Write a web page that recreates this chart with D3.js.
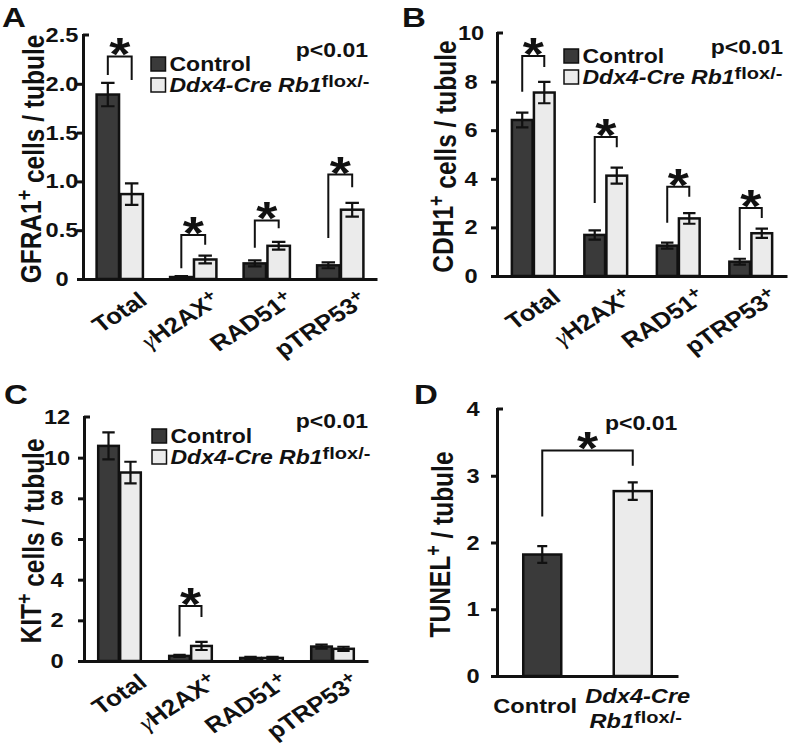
<!DOCTYPE html>
<html><head><meta charset="utf-8">
<script src="https://cdn.jsdelivr.net/npm/d3@7"></script>
<style>
body{margin:0;background:#fff}
svg text{font-family:"Liberation Sans",Arial,Helvetica,sans-serif;font-weight:bold;fill:#111}
</style>
</head><body>
<svg id="c" width="793" height="744"></svg>
<script>
// ---------- DATA ----------
const categories = ["Total", "γH2AX", "RAD51", "pTRP53"];
const categorySup = ["", "+", "+", "+"];
const seriesNames = ["Control", "Ddx4-Cre Rb1"];
const seriesSup = ["", "flox/-"];

// Panel A: GFRA1+ cells / tubule
const gfra1Control    = [1.89, 0.02, 0.16, 0.14];
const gfra1ControlErr = [0.12, 0.01, 0.03, 0.03];
const gfra1Mutant     = [0.87, 0.20, 0.34, 0.71];
const gfra1MutantErr  = [0.11, 0.04, 0.04, 0.07];
const gfra1Bracket    = [[2.09, 2.28, 2.04], [0.11, 0.45, 0.35], [0.32, 0.60, 0.52], [0.42, 1.07, 0.94]];
const gfra1Ticks      = [0, 0.5, 1.0, 1.5, 2.0, 2.5];
const gfra1TickLabels = ["0", "0.5", "1.0", "1.5", "2.0", "2.5"];

// Panel B: CDH1+ cells / tubule
const cdh1Control    = [6.42, 1.69, 1.25, 0.59];
const cdh1ControlErr = [0.30, 0.19, 0.12, 0.12];
const cdh1Mutant     = [7.55, 4.13, 2.37, 1.76];
const cdh1MutantErr  = [0.44, 0.33, 0.22, 0.19];
const cdh1Bracket    = [[7.58, 9.05, 8.60], [3.00, 5.72, 5.30], [2.19, 3.67, 3.26], [1.07, 2.80, 2.39]];
const cdh1Ticks      = [0, 2, 4, 6, 8, 10];

// Panel C: KIT+ cells / tubule
const kitControl    = [10.58, 0.25, 0.15, 0.71];
const kitControlErr = [0.66, 0.05, 0.05, 0.10];
const kitMutant     = [9.27, 0.74, 0.15, 0.60];
const kitMutantErr  = [0.53, 0.20, 0.05, 0.10];
const kitBracket    = [null, [1.20, 2.70, 2.17], null, null];
const kitTicks      = [0, 2, 4, 6, 8, 10, 12];

// Panel D: TUNEL+ / tubule
const tunelValues  = [1.82, 2.77];
const tunelErr     = [0.125, 0.13];
const tunelBracket = [2.39, 3.38, 3.15];
const tunelTicks   = [0, 1, 2, 3, 4];

const pText = "p<0.01";

// ---------- STYLE ----------
const SX = 1.18;               // horizontal stretch of the original figure
const fills = ["#3a3a3a", "#ebebeb"];
const ink = "#111";
const svg = d3.select("#c");

function stext(g, x, y, rot, size) {
  return g.append("text")
    .attr("transform", `translate(${x},${y}) scale(${SX},1)` + (rot ? ` rotate(${rot})` : ""))
    .style("font-size", size + "px");
}
function addLabel(t, main, sup, supSize, italicMain, supDy) {
  if (main.startsWith("γ")) {
    t.append("tspan").text("γ").style("font-family", "'Liberation Serif','Times New Roman',serif")
      .style("font-weight", "normal").style("font-style", "italic");
    main = main.slice(1);
  }
  const m = t.append("tspan").text(main);
  if (italicMain) m.style("font-style", "italic");
  if (sup) {
    t.append("tspan").text(sup).attr("dy", supDy || "-0.42em").style("font-size", supSize);
  }
  return t;
}

function yAxis(g, y, x0, ticks, labels, labelOffset, ylabel, ylabelRest, ylx) {
  const top = ticks[ticks.length - 1];
  const ax = d3.axisLeft(y).tickValues(ticks.slice(0, -1)).tickSize(6).tickSizeOuter(0).tickFormat("");
  const ag = g.append("g").attr("transform", `translate(${x0},0)`).call(ax);
  ag.select(".domain").attr("stroke", ink).attr("stroke-width", 3).attr("stroke-linecap", "square");
  ag.selectAll(".tick line").attr("stroke", ink).attr("stroke-width", 3);
  g.append("line").attr("x1", x0).attr("x2", x0 + 6).attr("y1", y(top)).attr("y2", y(top))
    .attr("stroke", ink).attr("stroke-width", 3);
  ticks.forEach((v, i) => {
    stext(g, x0 - labelOffset, y(v) + 7, 0, 20).attr("text-anchor", "middle").text(labels[i]);
  });
  const r = y.range();
  const t = stext(g, ylx, (r[0] + r[1]) / 2 + 2, -90, 24.5).attr("text-anchor", "middle");
  t.append("tspan").text(ylabel);
  t.append("tspan").text("+").attr("dy", "-0.42em").style("font-size", "18px");
  t.append("tspan").text(ylabelRest).attr("dy", "0.42em");
}

function star(g, xm, ytop) {
  stext(g, xm, ytop + 14, 0, 46).attr("text-anchor", "middle").text("*");
}

function legend(g, lx, ly) {
  seriesNames.forEach((s, i) => {
    const yb = ly + i * 21;
    g.append("rect").attr("x", lx).attr("y", yb - 14).attr("width", 14.5).attr("height", 14)
      .attr("fill", fills[i]).attr("stroke", ink).attr("stroke-width", 1.5);
    const t = stext(g, lx + 18.5, yb, 0, 19.5);
    addLabel(t, s, seriesSup[i], "17px", i === 1, "-0.3em");
  });
}

function errorBar(g, cx, hw, y, v, e) {
  const p = d3.path();
  p.moveTo(cx, y(v + e)); p.lineTo(cx, y(v - e));
  p.moveTo(cx - hw, y(v + e)); p.lineTo(cx + hw, y(v + e));
  p.moveTo(cx - hw, y(v - e)); p.lineTo(cx + hw, y(v - e));
  g.append("path").attr("d", p.toString()).attr("stroke", ink).attr("stroke-width", 2.2).attr("fill", "none");
}

function groupPanel(cfg) {
  const g = svg.append("g");
  const x = d3.scaleBand().domain(categories).range([cfg.x0, cfg.x1]).paddingInner(cfg.pad).paddingOuter(cfg.pad / 2);
  const xs = d3.scaleBand().domain(seriesNames).range([0, x.bandwidth()]).paddingInner(0.06);
  const y = d3.scaleLinear().domain([0, cfg.ticks[cfg.ticks.length - 1]]).range([cfg.y0, cfg.yTop]);
  const vals = [cfg.control, cfg.mutant], errs = [cfg.controlErr, cfg.mutantErr];

  seriesNames.forEach((s, si) => {
    g.selectAll(null).data(categories).enter().append("rect")
      .attr("x", c => x(c) + xs(s)).attr("width", xs.bandwidth())
      .attr("y", (c, i) => y(vals[si][i])).attr("height", (c, i) => y(0) - y(vals[si][i]))
      .attr("fill", fills[si]).attr("stroke", ink).attr("stroke-width", 2.5);
    categories.forEach((c, i) => {
      errorBar(g, x(c) + xs(s) + xs.bandwidth() / 2, xs.bandwidth() * 0.3, y, vals[si][i], errs[si][i]);
    });
  });
  categories.forEach((c, i) => {
    const b = cfg.bracket[i];
    if (!b) return;
    const xl = x(c) + xs(seriesNames[0]) + xs.bandwidth() / 2;
    const xr = x(c) + xs(seriesNames[1]) + xs.bandwidth() / 2;
    const p = d3.path();
    p.moveTo(xl, y(b[0])); p.lineTo(xl, y(b[1])); p.lineTo(xr, y(b[1])); p.lineTo(xr, y(b[2]));
    g.append("path").attr("d", p.toString()).attr("stroke", ink).attr("stroke-width", 2).attr("fill", "none");
    star(g, (xl + xr) / 2, y(b[1]));
  });
  const xa = g.append("g").attr("transform", `translate(0,${cfg.y0})`)
    .call(d3.axisBottom(x).tickSize(0).tickFormat(""));
  xa.select(".domain").attr("stroke", ink).attr("stroke-width", 3);
  categories.forEach((c, i) => {
    const t = stext(g, x(c) + x.bandwidth() / 2 + 29, cfg.y0 + 24, -37, 22).attr("text-anchor", "end");
    addLabel(t, c, categorySup[i], "17px", false);
  });
  yAxis(g, y, cfg.x0, cfg.ticks, cfg.tickLabels || cfg.ticks.map(String), cfg.lblOff, cfg.ylabel, cfg.ylabelRest, cfg.ylx);
  legend(g, cfg.lx, cfg.ly);
  stext(g, cfg.px, cfg.py, 0, 19.5).attr("text-anchor", "end").text(pText);
  stext(g, cfg.letterX, cfg.letterY, 0, 28).text(cfg.letter);
}

groupPanel({letter: "A", letterX: 2, letterY: 27, x0: 83, x1: 377, y0: 279, yTop: 35, pad: 0.37,
  ticks: gfra1Ticks, tickLabels: gfra1TickLabels, lblOff: 21,
  control: gfra1Control, controlErr: gfra1ControlErr, mutant: gfra1Mutant, mutantErr: gfra1MutantErr,
  bracket: gfra1Bracket, ylabel: "GFRA1", ylabelRest: " cells / tubule", ylx: 41,
  lx: 151, ly: 71, px: 368, py: 57});
groupPanel({letter: "B", letterX: 402, letterY: 27, x0: 497, x1: 787, y0: 276, yTop: 33, pad: 0.41,
  ticks: cdh1Ticks, lblOff: 26,
  control: cdh1Control, controlErr: cdh1ControlErr, mutant: cdh1Mutant, mutantErr: cdh1MutantErr,
  bracket: cdh1Bracket, ylabel: "CDH1", ylabelRest: " cells / tubule", ylx: 453,
  lx: 564, ly: 63, px: 783, py: 54});
groupPanel({letter: "C", letterX: 4, letterY: 404, x0: 84, x1: 368, y0: 661, yTop: 417, pad: 0.4,
  ticks: kitTicks, lblOff: 27,
  control: kitControl, controlErr: kitControlErr, mutant: kitMutant, mutantErr: kitMutantErr,
  bracket: kitBracket, ylabel: "KIT", ylabelRest: " cells / tubule", ylx: 41,
  lx: 152, ly: 443, px: 368, py: 428});

// Panel D
(function () {
  const g = svg.append("g");
  const cfg = {x0: 497, x1: 678, y0: 676, yTop: 409};
  const x = d3.scaleBand().domain(seriesNames).range([cfg.x0, cfg.x1]).paddingInner(0.58).paddingOuter(0.29);
  const y = d3.scaleLinear().domain([0, 4]).range([cfg.y0, cfg.yTop]);
  g.selectAll(null).data(seriesNames).enter().append("rect")
    .attr("x", s => x(s)).attr("width", x.bandwidth())
    .attr("y", (s, i) => y(tunelValues[i])).attr("height", (s, i) => y(0) - y(tunelValues[i]))
    .attr("fill", (s, i) => fills[i]).attr("stroke", ink).attr("stroke-width", 2.5);
  seriesNames.forEach((s, i) => errorBar(g, x(s) + x.bandwidth() / 2, 5, y, tunelValues[i], tunelErr[i]));
  const xl = x(seriesNames[0]) + x.bandwidth() / 2, xr = x(seriesNames[1]) + x.bandwidth() / 2;
  const p = d3.path();
  p.moveTo(xl, y(tunelBracket[0])); p.lineTo(xl, y(tunelBracket[1])); p.lineTo(xr, y(tunelBracket[1])); p.lineTo(xr, y(tunelBracket[2]));
  g.append("path").attr("d", p.toString()).attr("stroke", ink).attr("stroke-width", 2).attr("fill", "none");
  star(g, (xl + xr) / 2, y(tunelBracket[1]));
  stext(g, 605, 430, 0, 19.5).text(pText);
  const xa = g.append("g").attr("transform", `translate(0,${cfg.y0})`).call(d3.axisBottom(x).tickSize(0).tickFormat(""));
  xa.select(".domain").attr("stroke", ink).attr("stroke-width", 3);
  stext(g, x(seriesNames[0]) + x.bandwidth() / 2 - 7, 713, 0, 20).attr("text-anchor", "middle").text(seriesNames[0]);
  const parts = seriesNames[1].split(" ");
  stext(g, x(seriesNames[1]) + x.bandwidth() / 2 + 5, 703, 0, 20).attr("text-anchor", "middle").style("font-style", "italic").text(parts[0]);
  const t2 = stext(g, x(seriesNames[1]) + x.bandwidth() / 2 + 3, 728, 0, 20).attr("text-anchor", "middle");
  addLabel(t2, parts[1], seriesSup[1], "17px", true, "-0.3em");
  yAxis(g, y, cfg.x0, tunelTicks, tunelTicks.map(String), 24, "TUNEL", " / tubule", 450);
  stext(g, 414, 404, 0, 28).text("D");
})();
</script>
</body></html>
